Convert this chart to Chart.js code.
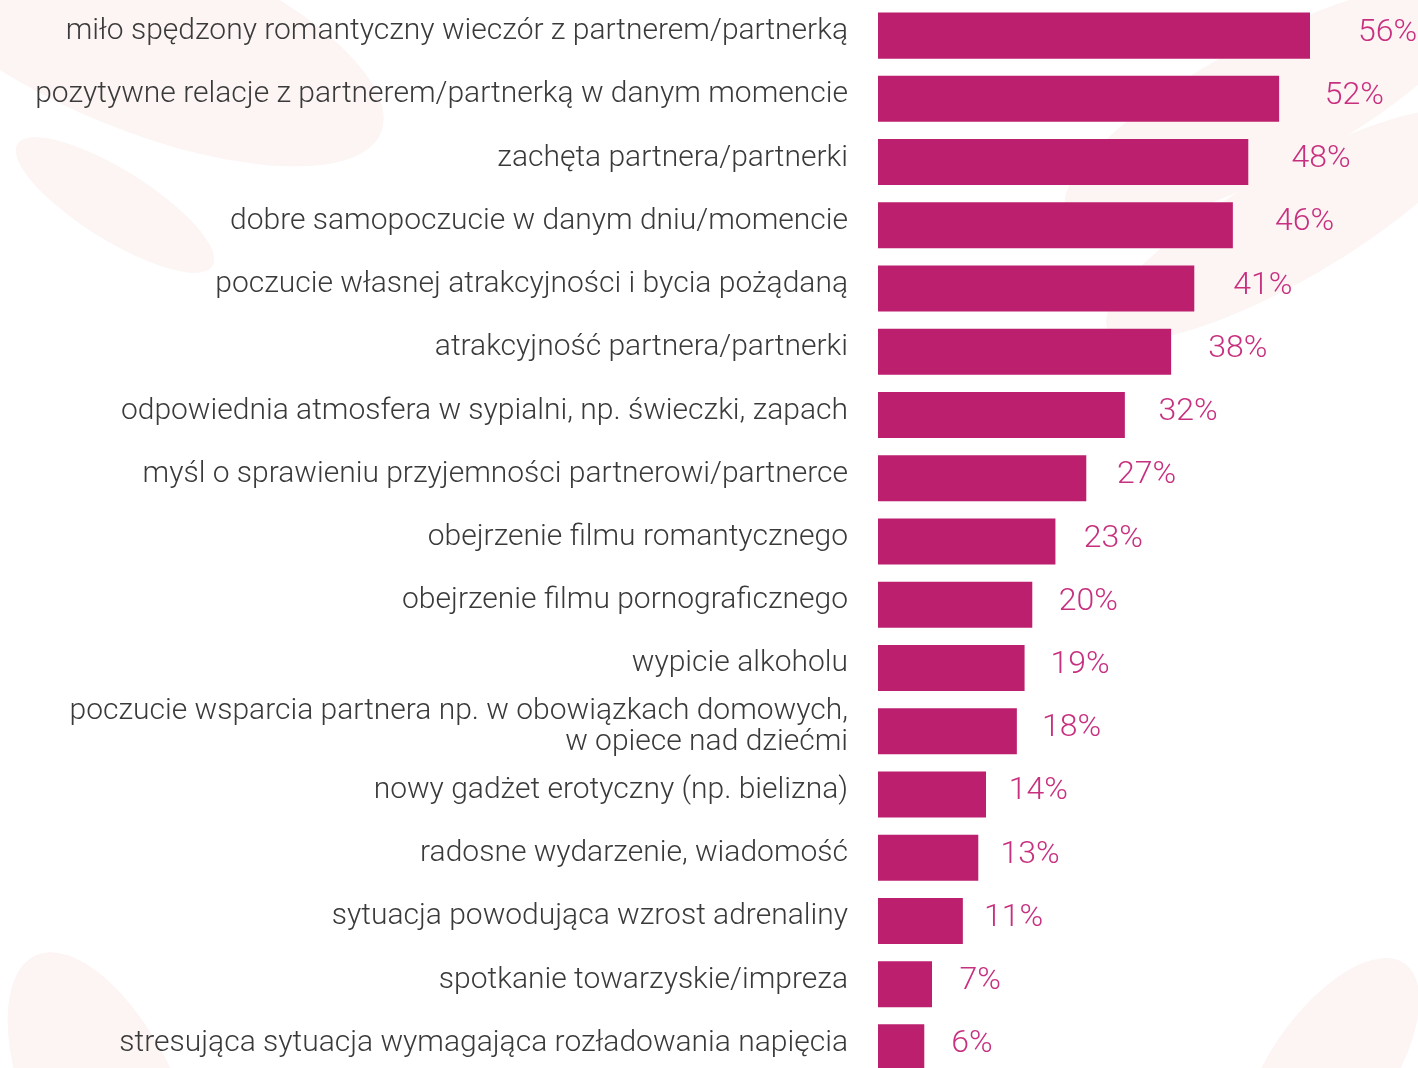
<!DOCTYPE html>
<html>
<head>
<meta charset="utf-8">
<script src="https://cdn.jsdelivr.net/npm/chart.js@4.4.1/dist/chart.umd.min.js"></script>
<style>
  html, body { margin: 0; padding: 0; background: #fff; overflow: hidden; }
  #wrap { position: relative; width: 1418px; height: 1080px; }
  .blob { position: absolute; background: #fdf4f4; border-radius: 50%; }
  canvas { position: relative; }
</style>
</head>
<body>
<div id="wrap">
  <div class="blob" style="left:-120px; top:-60px; width:520px; height:190px; transform:rotate(22deg);"></div>
  <div class="blob" style="left:0px; top:170px; width:230px; height:70px; transform:rotate(32deg);"></div>
  <div class="blob" style="left:1040px; top:40px; width:460px; height:130px; transform:rotate(-28deg);"></div>
  <div class="blob" style="left:1080px; top:170px; width:420px; height:110px; transform:rotate(-30deg);"></div>
  <div class="blob" style="left:30px; top:940px; width:150px; height:330px; transform:rotate(-25deg);"></div>
  <div class="blob" style="left:1270px; top:940px; width:120px; height:260px; transform:rotate(35deg);"></div>
  <canvas id="chart"></canvas>
</div>
<script>
const kategorie = [
  'miło spędzony romantyczny wieczór z partnerem/partnerką',
  'pozytywne relacje z partnerem/partnerką w danym momencie',
  'zachęta partnera/partnerki',
  'dobre samopoczucie w danym dniu/momencie',
  'poczucie własnej atrakcyjności i bycia pożądaną',
  'atrakcyjność partnera/partnerki',
  'odpowiednia atmosfera w sypialni, np. świeczki, zapach',
  'myśl o sprawieniu przyjemności partnerowi/partnerce',
  'obejrzenie filmu romantycznego',
  'obejrzenie filmu pornograficznego',
  'wypicie alkoholu',
  ['poczucie wsparcia partnera np. w obowiązkach domowych,', 'w opiece nad dziećmi'],
  'nowy gadżet erotyczny (np. bielizna)',
  'radosne wydarzenie, wiadomość',
  'sytuacja powodująca wzrost adrenaliny',
  'spotkanie towarzyskie/impreza',
  'stresująca sytuacja wymagająca rozładowania napięcia'
];
const wartosci = [56, 52, 48, 46, 41, 38, 32, 27, 23, 20, 19, 18, 14, 13, 11, 7, 6];

const etykietyWartosci = {
  id: 'etykietyWartosci',
  afterDatasetsDraw(chart) {
    const ctx = chart.ctx;
    const meta = chart.getDatasetMeta(0);
    ctx.save();
    ctx.font = '300 32px Roboto';
    ctx.fillStyle = '#c7307f';
    ctx.textAlign = 'center';
    ctx.textBaseline = 'middle';
    meta.data.forEach((bar, i) => {
      const v = wartosci[i];
      ctx.fillText(v + '%', bar.x + 44 + 0.6 * v, bar.y - 3);
    });
    ctx.restore();
  }
};

new Chart(document.getElementById('chart'), {
  type: 'bar',
  data: {
    labels: kategorie,
    datasets: [{
      data: wartosci,
      backgroundColor: '#bc1f6e',
      borderWidth: 0,
      barPercentage: 0.728,
      categoryPercentage: 1
    }]
  },
  options: {
    indexAxis: 'y',
    responsive: true,
    maintainAspectRatio: false,
    animation: false,
    layout: { padding: { top: 4, bottom: 1, left: 0, right: 0 } },
    plugins: {
      legend: { display: false },
      tooltip: { enabled: false }
    },
    scales: {
      x: {
        display: false,
        min: 0,
        max: 70
      },
      y: {
        afterFit: (axis) => {
          axis.width = 878;
          axis.paddingTop = 0;
          axis.paddingBottom = 0;
        },
        grid: { display: false, drawTicks: false },
        border: { display: false },
        ticks: {
          autoSkip: false,
          padding: 30,
          labelOffset: -4,
          color: '#3a3a3a',
          font: { family: 'Roboto', weight: '300', size: 30, lineHeight: 1.03 }
        }
      }
    }
  },
  plugins: [etykietyWartosci]
});
</script>
</body>
</html>
